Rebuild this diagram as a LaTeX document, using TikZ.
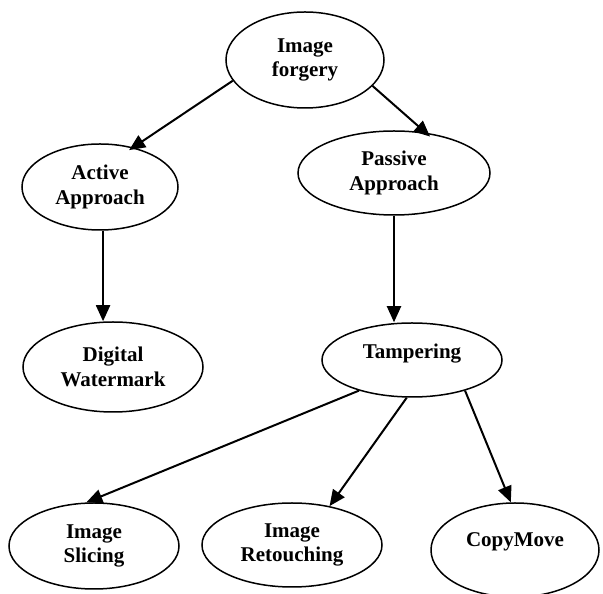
\documentclass[tikz,border=0pt]{standalone}
\usepackage{fontspec}
\setmainfont{Liberation Serif}
\usepackage{tikz}
\usetikzlibrary{positioning, shapes.geometric, arrows.meta}
\tikzstyle{arrow} = [line width=2pt,->,>={Triangle[length=16pt,width=14pt]}]
\tikzstyle{oneline} = [text depth=18pt]

\begin{document}
\begin{tikzpicture}[x=1pt, y=1pt, every node/.style={ellipse, draw, line width=1.5pt, inner sep=0pt, align=center, font=\fontsize{21}{24.5}\selectfont\bfseries}]
  \useasboundingbox (0,0) rectangle (603,594);

  % Root
  \node[minimum width=158pt, minimum height=96pt] (img) at (305,534) {Image\\forgery};

  % Two approaches
  \node[minimum width=156pt, minimum height=86pt] (active) at (100,407) {Active\\Approach};
  \node[minimum width=192pt, minimum height=84pt] (passive) at (394,421) {Passive\\Approach};

  % Third level
  \node[minimum width=180pt, minimum height=90pt] (wmark) at (113,227) {Digital\\Watermark};
  \node[oneline, minimum width=180pt, minimum height=74pt] (tamper) at (412,234) {Tampering};

  % Leaves
  \node[minimum width=170pt, minimum height=86pt] (slice) at (94,48) {Image\\Slicing};
  \node[minimum width=180pt, minimum height=84pt] (retouch) at (292,49) {Image\\Retouching};
  \node[oneline, text depth=20pt, minimum width=168pt, minimum height=94pt] (copymove) at (515,44) {CopyMove};

  % Arrows
  \draw[arrow, shorten >=-5pt] (img.196) -- (active.50);
  \draw[arrow, shorten >=-6pt] (img.339) -- (passive.52);
  \draw[arrow] (active.-86) -- (active.-86 |- wmark.north);
  \draw[arrow] (passive.south) -- (passive.south |- tamper.north);
  \draw[arrow] (tamper.210) -- (slice.100);
  \draw[arrow] (tamper.262) -- (retouch.46);
  \draw[arrow] (tamper.330) -- (copymove.95);
\end{tikzpicture}
\end{document}
